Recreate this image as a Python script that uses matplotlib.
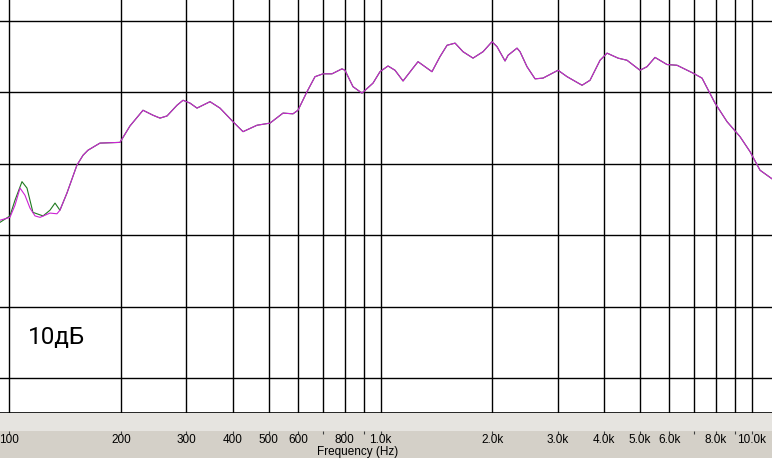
import matplotlib
matplotlib.use("Agg")
import matplotlib.pyplot as plt
import numpy as np
from matplotlib.patches import Rectangle

# АЧХ, значения (Гц, дБ)
freq_main = [94.4, 100.4, 103.6, 106.9, 110.2, 113.7, 117.3, 121.0, 128.7, 134.4,
             136.9, 143.0, 152.1, 158.0, 162.9, 175.5, 198.7, 211.4, 229.2, 243.9,
             254.7, 266.0, 283.0, 293.8, 306.8, 320.4, 347.3, 369.5, 400.5, 426.2,
             464.8, 503.9, 546.2, 581.1, 599.4, 633.9, 666.1, 699.9, 740.1, 787.4,
             802.2, 843.1, 891.5, 954.5, 996.9, 1047.6, 1094.1, 1150, 1223, 1262,
             1334, 1376, 1446, 1511, 1588, 1668, 1775, 1889, 1997, 2060,
             2165, 2206, 2332, 2376, 2481, 2608, 2740, 3008, 3181, 3491,
             3668, 3903, 4076, 4364, 4614, 5001, 5223, 5488, 5914, 6292,
             6949, 7347, 7963, 8580, 9300, 9896, 10529, 11340]
db_main = [72.1, 72.5, 74.2, 76.6, 75.6, 73.8, 72.7, 72.5, 73.1, 73.0,
           73.5, 75.9, 79.8, 81.2, 81.9, 82.9, 83.0, 85.3, 87.5, 86.8,
           86.4, 86.7, 88.2, 88.9, 88.5, 87.8, 88.7, 87.8, 85.9, 84.5,
           85.4, 85.7, 87.1, 87.0, 87.5, 90.1, 92.2, 92.6, 92.6, 93.3,
           93.1, 90.8, 89.9, 91.3, 92.9, 93.7, 93.1, 91.6, 93.4, 94.3,
           93.4, 92.9, 95.0, 96.6, 96.9, 95.7, 94.8, 95.7, 97.1, 96.4,
           94.4, 95.2, 96.2, 95.7, 93.6, 91.9, 92.0, 93.1, 92.2, 91.0,
           91.7, 94.5, 95.5, 94.8, 94.5, 93.1, 93.6, 94.9, 93.9, 93.8,
           92.7, 92.0, 88.5, 85.9, 83.8, 81.7, 79.1, 77.9]

# вторая кривая отличается только на низах
freq_low2 = [94.4, 100.4, 103.6, 108.2, 111.6, 115.8, 123.3, 128.7, 132.8, 136.9]
db_low2 = [71.8, 72.7, 74.9, 77.5, 76.6, 73.2, 72.7, 73.5, 74.5, 73.5]

grid_x = [100, 200, 300, 400, 500, 600, 700, 800, 900,
          1000, 2000, 3000, 4000, 5000, 6000, 7000, 8000, 9000, 10000]
grid_y = [50, 60, 70, 80, 90, 100]
tick_labels = {100: "100", 200: "200", 300: "300", 400: "400", 500: "500",
               600: "600", 800: "800", 1000: "1.0k", 2000: "2.0k", 3000: "3.0k",
               4000: "4.0k", 5000: "5.0k", 6000: "6.0k", 8000: "8.0k",
               10000: "10.0k"}

W, H = 772, 458
fig = plt.figure(figsize=(W / 100, H / 100), dpi=100)
fig.patch.set_facecolor("#d4d0c8")

# полоса с растром под графиком
fig.patches.append(Rectangle((0, 27 / H), 1, 18 / H, transform=fig.transFigure,
                             facecolor="#e6e4e0", edgecolor="none", zorder=0))

ax = fig.add_axes([0, 45 / H, 1, 413 / H])
ax.set_facecolor("white")
ax.set_xscale("log")
ax.set_xlim(94.4, 11340)
ax.set_ylim(45.1, 102.94)
for s in ["top", "left", "right"]:
    ax.spines[s].set_visible(False)
ax.spines["bottom"].set_linewidth(1.2)
ax.set_xticks([])
ax.set_yticks([])
ax.minorticks_off()

for gx in grid_x:
    ax.axvline(gx, color="black", lw=1.0, zorder=1)
for gy in grid_y:
    ax.axhline(gy, color="black", lw=1.0, zorder=1)

freq_green = freq_low2 + [f for f in freq_main if f >= 143]
db_green = db_low2 + [d for f, d in zip(freq_main, db_main) if f >= 143]
ax.plot(freq_green, db_green, color="#1f7a1f", lw=0.8, zorder=2)
ax.plot(freq_main, db_main, color="#cc22d4", lw=0.8, zorder=3)

ax.text(28 / W, (413 - 338) / 413, "10дБ", transform=ax.transAxes,
        fontsize=17.5, family=["Roboto", "DejaVu Sans"], va="center", ha="left")

# подписи оси частот
ax2 = fig.add_axes([0, 0, 1, 27 / H])
ax2.set_xscale("log")
ax2.set_xlim(94.4, 11340)
ax2.set_ylim(0, 27)
ax2.axis("off")
ax2.vlines(grid_x, 24, 27, color="#404040", lw=0.8)
for f, lab in tick_labels.items():
    ax2.text(f, 18, lab, ha="center", va="center", fontsize=8.5,
             family=["Liberation Sans", "DejaVu Sans"])
fig.text(358 / W, 12 / H, "Frequency (Hz)", ha="center", va="top", fontsize=8.5,
         family=["Liberation Sans", "DejaVu Sans"])

fig.savefig("out.png", dpi=100, facecolor=fig.get_facecolor())
